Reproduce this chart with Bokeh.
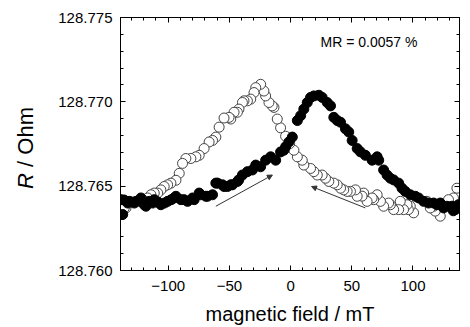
from bokeh.plotting import figure
from bokeh.layouts import row
from bokeh.models import (FixedTicker, LinearAxis, CustomJSTickFormatter, PrintfTickFormatter,
                          Label, Arrow, NormalHead, ColumnDataSource, Div)
from bokeh.embed import file_html
from bokeh.resources import INLINE

# ---- data (field in mT, resistance in Ohm) ----
up_field = [-138.6, -137.2, -136.1, -133.1, -131.8, -127.7, -126.3, -122.3, -119.6, -118.2,
            -115.5, -112.7, -111.4, -108.4, -106.0, -103.0, -100.5, -97.5, -95.1, -93.7, -89.6,
            -87.0, -84.2, -80.1, -78.8, -74.7, -73.4, -69.3, -67.9, -63.8, -61.1, -59.7,
            -55.7, -54.4, -51.6, -48.9, -47.5, -43.4, -42.4, -39.4, -35.3, -31.2, -28.5,
            -24.5, -20.4, -16.3, -12.2, -8.2, -5.5, -4.1, -1.4, 1.4, 5.5, 8.2, 10.8, 13.6,
            16.3, 19.0, 23.1, 25.8, 29.9, 32.6, 35.3, 38.1, 40.8, 44.8, 47.5, 50.3, 54.4,
            57.1, 61.1, 66.6, 70.7, 72.0, 76.0, 78.8, 81.5, 84.2, 88.3, 91.0, 93.7, 97.8,
            101.9, 104.6, 108.7, 112.7, 116.8, 119.6, 122.3, 125.0, 127.7, 131.8, 132.9,
            134.5, 137.2]
up_R = [128.76420, 128.76332, 128.76418, 128.76400, 128.76410, 128.76400, 128.76410, 128.76430,
        128.76390, 128.76381, 128.76410, 128.76400, 128.76420, 128.76406, 128.76390, 128.76400,
        128.76410, 128.76420, 128.76430, 128.76440, 128.76420, 128.76420, 128.76410, 128.76430,
        128.76420, 128.76459, 128.76449, 128.76440, 128.76440, 128.76449, 128.76518, 128.76518,
        128.76508, 128.76498, 128.76498, 128.76508, 128.76508, 128.76528, 128.76537, 128.76566,
        128.76586, 128.76596, 128.76625, 128.76615, 128.76654, 128.76674, 128.76654, 128.76703,
        128.76713, 128.76733, 128.76762, 128.76791, 128.76889, 128.76918, 128.76957, 128.76996,
        128.77026, 128.77035, 128.77039, 128.77026, 128.76996, 128.76976, 128.76908, 128.76889,
        128.76879, 128.76840, 128.76821, 128.76771, 128.76723, 128.76703, 128.76683, 128.76654,
        128.76674, 128.76654, 128.76596, 128.76566, 128.76547, 128.76537, 128.76518, 128.76488,
        128.76469, 128.76449, 128.76440, 128.76430, 128.76410, 128.76400, 128.76400, 128.76390,
        128.76400, 128.76371, 128.76381, 128.76381, 128.76354, 128.76361, 128.76390]

down_field = [135.9, 133.1, 129.0, 122.3, 118.2, 116.8, 114.1, 111.4, 100.5, 97.8, 96.2, 95.1,
              92.3, 89.6, 88.3, 84.2, 81.5, 80.1, 76.0, 73.4, 70.7, 67.9, 66.6, 62.5, 59.7,
              58.4, 54.4, 53.0, 48.9, 46.2, 43.4, 40.8, 38.1, 35.3, 31.2, 28.5, 25.8, 21.8,
              19.0, 16.3, 10.8, 9.5, 5.5, 2.7, -0.8, -4.1, -8.2, -10.9, -13.6, -15.0, -17.7,
              -20.4, -21.8, -24.5, -28.5, -29.9, -32.6, -35.3, -38.1, -39.4, -42.2, -43.5,
              -46.2, -48.9, -50.3, -54.4, -58.4, -61.1, -63.8, -66.6, -70.7, -74.7, -77.4,
              -81.5, -85.6, -88.3, -91.0, -93.7, -97.8, -100.5, -103.3, -106.0, -108.6,
              -111.4, -114.1, -116.8, -120.9, -124.9, -129.6, -133.1, -134.5, -135.9]
down_R = [128.76488, 128.76430, 128.76420, 128.76322, 128.76352, 128.76381, 128.76371, 128.76410,
          128.76342, 128.76381, 128.76361, 128.76390, 128.76361, 128.76410, 128.76361, 128.76361,
          128.76390, 128.76400, 128.76381, 128.76410, 128.76449, 128.76420, 128.76430, 128.76410,
          128.76459, 128.76441, 128.76440, 128.76478, 128.76469, 128.76469, 128.76478, 128.76488,
          128.76508, 128.76518, 128.76528, 128.76547, 128.76566, 128.76566, 128.76586, 128.76605,
          128.76625, 128.76654, 128.76674, 128.76713, 128.76752, 128.76796, 128.76846, 128.76898,
          128.76967, 128.76976, 128.76996, 128.77035, 128.77064, 128.77104, 128.77084, 128.77055,
          128.77016, 128.77006, 128.77006, 128.76996, 128.76957, 128.76938, 128.76938, 128.76898,
          128.76908, 128.76904, 128.76850, 128.76791, 128.76771, 128.76762, 128.76723, 128.76683,
          128.76674, 128.76664, 128.76664, 128.76635, 128.76576, 128.76535, 128.76518, 128.76508,
          128.76498, 128.76478, 128.76459, 128.76459, 128.76449, 128.76430, 128.76420, 128.76410,
          128.76406, 128.76400, 128.76371, 128.76371]

x_ticks = [-100, -50, 0, 50, 100]
x_minor = [-130, -120, -110, -90, -80, -70, -60, -40, -30, -20, -10,
           10, 20, 30, 40, 60, 70, 80, 90, 110, 120, 130]
y_ticks = [128.760, 128.765, 128.770, 128.775]
y_minor = [128.761, 128.762, 128.763, 128.764, 128.766, 128.767, 128.768, 128.769,
           128.771, 128.772, 128.773, 128.774]

# arrows (start -> end, data units)
arrow_up = (-61.1, 128.76381, -14.9, 128.76566)
arrow_down = (61.1, 128.76371, 17.1, 128.76498)

FONT = "Liberation Sans"
DIV_W, DIV_H = 52, 296
W, H = 462 - DIV_W, 327

p = figure(width=W, height=H, x_range=(-139, 138), y_range=(128.760, 128.775),
           output_backend="svg", toolbar_location=None,
           min_border_left=120 - DIV_W, min_border_right=3, min_border_top=17,
           min_border_bottom=56)
p.xgrid.grid_line_color = None
p.ygrid.grid_line_color = None
p.outline_line_color = "black"
p.outline_line_width = 1
p.background_fill_color = "white"
p.border_fill_color = "white"

xt = FixedTicker(ticks=x_ticks, minor_ticks=x_minor)
yt = FixedTicker(ticks=y_ticks, minor_ticks=y_minor)

def style_axis(ax):
    ax.major_tick_in = 5
    ax.major_tick_out = 0
    ax.minor_tick_in = 3
    ax.minor_tick_out = 0
    ax.axis_line_color = "black"
    ax.major_tick_line_color = "black"
    ax.minor_tick_line_color = "black"
    ax.major_label_text_font = FONT
    ax.major_label_text_font_size = "15px"
    ax.major_label_text_color = "black"

p.xaxis.ticker = xt
p.yaxis.ticker = yt
p.yaxis.formatter = PrintfTickFormatter(format="%.3f")
style_axis(p.xaxis[0])
style_axis(p.yaxis[0])
p.xaxis.major_label_standoff = 10
p.yaxis.major_label_standoff = 8
p.xaxis.axis_label = "magnetic field / mT"
p.xaxis.axis_label_text_font = FONT
p.xaxis.axis_label_text_font_size = "20px"
p.xaxis.axis_label_text_font_style = "normal"
p.xaxis.axis_label_text_color = "black"
p.xaxis.axis_label_standoff = 9

blank = CustomJSTickFormatter(code="return ''")
top = LinearAxis(ticker=xt, formatter=blank)
right = LinearAxis(ticker=yt, formatter=blank)
style_axis(top)
style_axis(right)
top.major_label_standoff = 0
right.major_label_standoff = 0
p.add_layout(top, "above")
p.add_layout(right, "right")

src_down = ColumnDataSource(dict(x=down_field, y=down_R))
src_up = ColumnDataSource(dict(x=up_field, y=up_R))
p.scatter("x", "y", source=src_down, size=10, marker="circle", fill_color="white",
          line_color="#444444", line_width=1)
p.scatter("x", "y", source=src_up, size=10, marker="circle", fill_color="black",
          line_color="black", line_width=1)

for (x0, y0, x1, y1) in (arrow_up, arrow_down):
    p.add_layout(Arrow(x_start=x0, y_start=y0, x_end=x1, y_end=y1, line_color="#333333",
                       line_width=1,
                       end=NormalHead(size=5, fill_color="#333333", line_color="#333333")))

p.add_layout(Label(x=24.4, y=128.77354, text="MR = 0.0057 %", text_font=FONT,
                   text_font_size="14px", text_baseline="middle", text_align="left",
                   text_color="black"))

# y-axis title with italic R, rotated, in a narrow Div to the left of the figure
ylabel = Div(width=DIV_W, height=DIV_H, margin=0, text=(
    '<div style="width:%dpx;height:%dpx;display:flex;align-items:center;'
    'justify-content:center;">'
    '<div style="writing-mode:vertical-rl;transform:rotate(180deg);white-space:nowrap;'
    "font-family:'Liberation Sans',Arial,sans-serif;font-size:22px;color:black;"
    'line-height:1;"><i>R</i> / Ohm</div></div>'
) % (DIV_W, DIV_H))

layout = row(ylabel, p, spacing=0)

open("out.html", "w").write(file_html(layout, INLINE))
